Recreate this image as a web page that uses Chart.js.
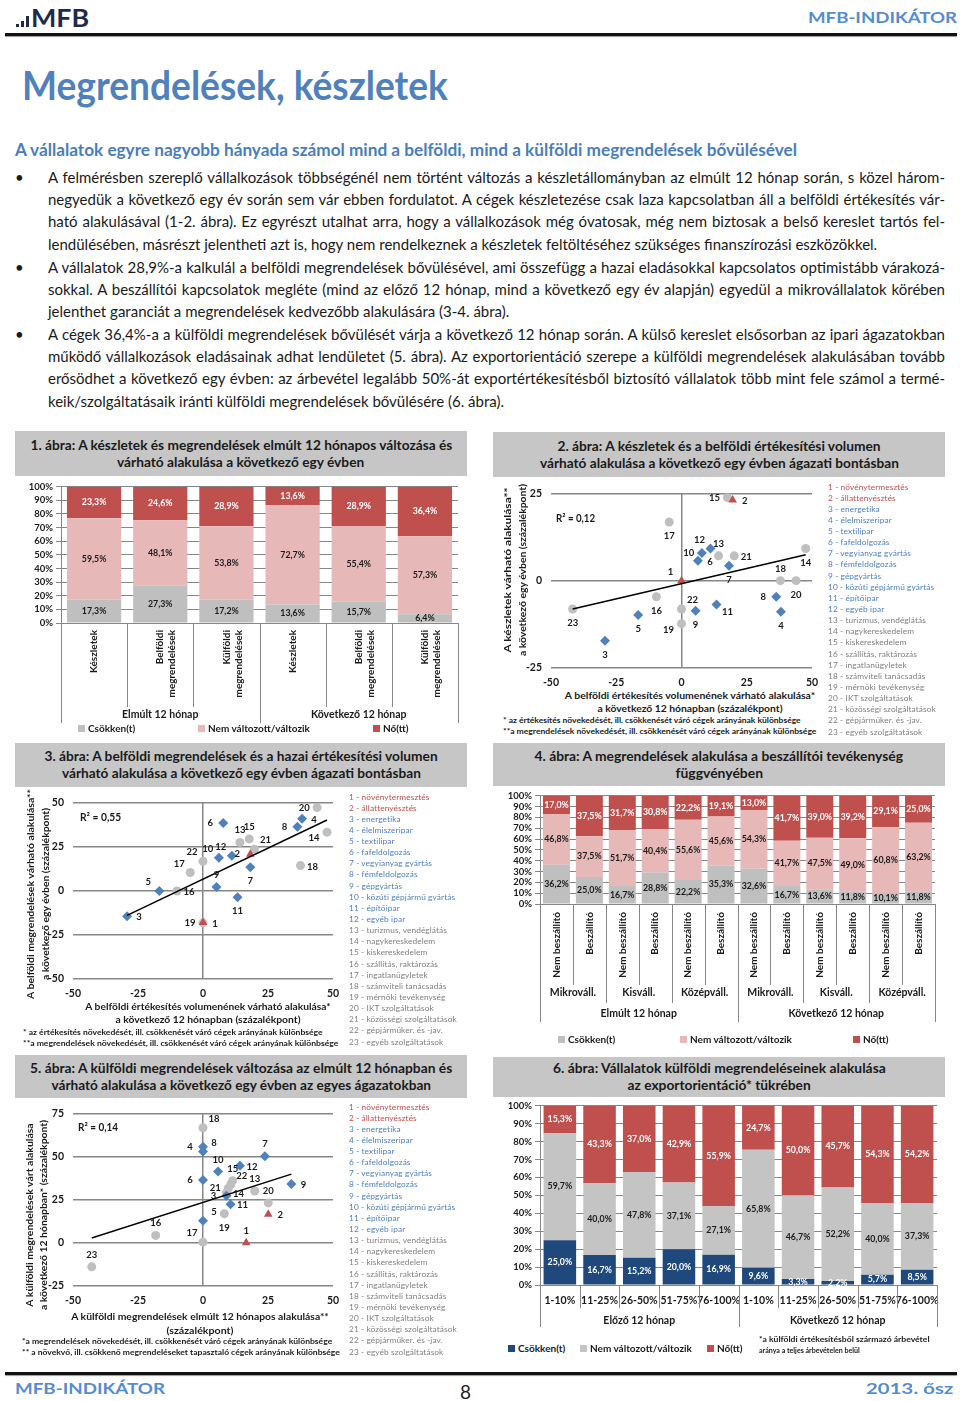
<!DOCTYPE html>
<html lang="hu">
<head>
<meta charset="utf-8">
<title>Megrendelések, készletek</title>
<script src="https://cdn.jsdelivr.net/npm/chart.js"></script>
<style>
  html, body { margin: 0; background: #fff; }
  #page { position: relative; width: 960px; height: 1401px; overflow: hidden; font-family: Lato, "Open Sans", sans-serif; color: #1a1a1a; }
  .t { position: absolute; white-space: nowrap; }
  .fit { display: inline-block; transform-origin: 0 50%; }
  .fitc { display: inline-block; transform-origin: 50% 50%; }
  .rule { position: absolute; left: 5px; width: 952px; height: 3px; background: #111; box-shadow: 0 1px 1px #999; }
  .ln { position: absolute; left: 48px; height: 22px; line-height: 22px; font-size: 15px; white-space: nowrap; }
  .ln span { display: inline-block; transform-origin: 0 50%; }
  .bul { position: absolute; left: 15px; font-size: 15px; line-height: 22px; height: 22px; }
  .ttl { position: absolute; background: #c6c6c6; font-weight: bold; font-size: 12.5px; line-height: 17px; color: #1a1a1a;
         display: flex; flex-direction: column; align-items: center; justify-content: center; }
  .ttl div { white-space: nowrap; }
  canvas { position: absolute; }
  .lg { position: absolute; font-weight: bold; font-size: 10px; line-height: 12px; white-space: nowrap; }
  .lg i { display: inline-block; width: 7px; height: 7px; margin-right: 3px; }
  .sec { position: absolute; font-size: 8.3px; line-height: 11px; white-space: nowrap; letter-spacing: 0.1px; }
  .ax { position: absolute; font-weight: bold; font-size: 10px; line-height: 13px; white-space: nowrap; }
  .note { position: absolute; font-weight: bold; font-size: 7.5px; line-height: 11px; white-space: nowrap; }
</style>
</head>
<body>
<div id="page">
  <!-- header -->
  <div style="position:absolute;left:16px;top:24px;width:3px;height:3px;background:#1c2b4c"></div>
  <div style="position:absolute;left:21px;top:21px;width:3px;height:6px;background:#1c2b4c"></div>
  <div style="position:absolute;left:26px;top:16px;width:3px;height:11px;background:#1c2b4c"></div>
  <div class="t" style="left:31px;top:5px;line-height:26px;font-size:24px;font-weight:bold;color:#1c2b4c"><span class="fit" data-w="58">MFB</span></div>
  <div class="t" style="left:808px;top:7px;line-height:20px;font-size:16px;font-weight:bold;color:#548dd4"><span class="fit" data-w="149">MFB-INDIKÁTOR</span></div>
  <div class="rule" style="top:33px"></div>

  <div class="t" style="left:22px;top:62px;height:46px;line-height:46px;font-size:40px;font-weight:bold;color:#4f81bd"><span class="fit" data-w="426">Megrendelések, készletek</span></div>
  <div class="t" style="left:15px;top:139px;line-height:22px;font-size:16.5px;font-weight:bold;color:#4a7ebb"><span class="fit" data-w="782">A vállalatok egyre nagyobb hányada számol mind a belföldi, mind a külföldi megrendelések bővülésével</span></div>

  <!-- body text -->
  <div class="bul" style="top:166px">•</div>
  <div class="ln" style="top:166px"><span>A felmérésben szereplő vállalkozások többségénél nem történt változás a készletállományban az elmúlt 12 hónap során, s közel három-</span></div>
  <div class="ln" style="top:188px"><span>negyedük a következő egy év során sem vár ebben fordulatot. A cégek készletezése csak laza kapcsolatban áll a belföldi értékesítés vár-</span></div>
  <div class="ln" style="top:210px"><span>ható alakulásával (1-2. ábra). Ez egyrészt utalhat arra, hogy a vállalkozások még óvatosak, még nem biztosak a belső kereslet tartós fel-</span></div>
  <div class="ln last" style="top:233px"><span>lendülésében, másrészt jelentheti azt is, hogy nem rendelkeznek a készletek feltöltéséhez szükséges finanszírozási eszközökkel.</span></div>
  <div class="bul" style="top:256px">•</div>
  <div class="ln" style="top:256px"><span>A vállalatok 28,9%-a kalkulál a belföldi megrendelések bővülésével, ami összefügg a hazai eladásokkal kapcsolatos optimistább várakozá-</span></div>
  <div class="ln" style="top:278px"><span>sokkal. A beszállítói kapcsolatok megléte (mind az előző 12 hónap, mind a következő egy év alapján) egyedül a mikrovállalatok körében</span></div>
  <div class="ln last" style="top:300px"><span>jelenthet garanciát a megrendelések kedvezőbb alakulására (3-4. ábra).</span></div>
  <div class="bul" style="top:323px">•</div>
  <div class="ln" style="top:323px"><span>A cégek 36,4%-a a külföldi megrendelések bővülését várja a következő 12 hónap során. A külső kereslet elsősorban az ipari ágazatokban</span></div>
  <div class="ln" style="top:345px"><span>működő vállalkozások eladásainak adhat lendületet (5. ábra). Az exportorientáció szerepe a külföldi megrendelések alakulásában tovább</span></div>
  <div class="ln" style="top:367px"><span>erősödhet a következő egy évben: az árbevétel legalább 50%-át exportértékesítésből biztosító vállalatok több mint fele számol a termé-</span></div>
  <div class="ln last" style="top:390px"><span>keik/szolgáltatásaik iránti külföldi megrendelések bővülésére (6. ábra).</span></div>

  <!-- chart panels -->
  <div class="ttl" style="left:15px;top:431px;width:452px;height:45px">
    <div><span class="fitc" data-w="422">1. ábra: A készletek és megrendelések elmúlt 12 hónapos változása és</span></div>
    <div><span class="fitc" data-w="247">várható alakulása a következő egy évben</span></div>
  </div>
  <div class="ttl" style="left:493px;top:432px;width:452px;height:45px">
    <div><span class="fitc" data-w="323">2. ábra: A készletek és a belföldi értékesítési volumen</span></div>
    <div><span class="fitc" data-w="359">várható alakulása a következő egy évben ágazati bontásban</span></div>
  </div>
  <div class="ttl" style="left:15px;top:743px;width:452px;height:44px">
    <div><span class="fitc" data-w="393">3. ábra: A belföldi megrendelések és a hazai értékesítési volumen</span></div>
    <div><span class="fitc" data-w="359">várható alakulása a következő egy évben ágazati bontásban</span></div>
  </div>
  <div class="ttl" style="left:493px;top:743px;width:452px;height:43px">
    <div><span class="fitc" data-w="368">4. ábra: A megrendelések alakulása a beszállítói tevékenység</span></div>
    <div><span class="fitc" data-w="88">függvényében</span></div>
  </div>
  <div class="ttl" style="left:15px;top:1055px;width:452px;height:43px">
    <div><span class="fitc" data-w="422">5. ábra: A külföldi megrendelések változása az elmúlt 12 hónapban és</span></div>
    <div><span class="fitc" data-w="379">várható alakulása a következő egy évben az egyes ágazatokban</span></div>
  </div>
  <div class="ttl" style="left:493px;top:1057px;width:452px;height:40px">
    <div><span class="fitc" data-w="333">6. ábra: Vállalatok külföldi megrendeléseinek alakulása</span></div>
    <div><span class="fitc" data-w="183">az exportorientáció* tükrében</span></div>
  </div>

  <canvas id="c1" width="470" height="250" style="left:15px;top:478px"></canvas>
  <canvas id="c2" width="340" height="210" style="left:490px;top:478px"></canvas>
  <canvas id="c3" width="340" height="215" style="left:15px;top:787px"></canvas>
  <canvas id="c4" width="470" height="250" style="left:490px;top:787px"></canvas>
  <canvas id="c5" width="340" height="212" style="left:15px;top:1098px"></canvas>
  <canvas id="c6" width="470" height="240" style="left:490px;top:1097px"></canvas>

  <!-- 2. ábra texts -->
  <div class="ax" style="left:556px;top:512px;font-size:10.5px"><span class="fit" data-w="39">R² = 0,12</span></div>
  <div class="ax" style="left:507px;top:570px;transform:translate(-50%,-50%) rotate(-90deg)"><span class="fitc" data-w="165">A készletek várható alakulása**</span></div>
  <div class="ax" style="left:522px;top:570px;transform:translate(-50%,-50%) rotate(-90deg)"><span class="fitc" data-w="172">a következő egy évben (százalékpont)</span></div>
  <div class="ax" style="left:690px;top:695px;transform:translate(-50%,-50%)"><span class="fitc" data-w="250">A belföldi értékesítés volumenének várható alakulása*</span></div>
  <div class="ax" style="left:690px;top:708px;transform:translate(-50%,-50%)"><span class="fitc" data-w="185">a következő 12 hónapban (százalékpont)</span></div>
  <div class="note" style="left:503px;top:715px"><span class="fit" data-w="298">* az értékesítés növekedését, ill. csökkenését váró cégek arányának különbsége</span></div>
  <div class="note" style="left:503px;top:726px"><span class="fit" data-w="313">**a megrendelések növekedését, ill. csökkenését váró cégek arányának különbsége</span></div>

  <!-- 3. ábra texts -->
  <div class="ax" style="left:80px;top:811px;font-size:10.5px"><span class="fit" data-w="41">R² = 0,55</span></div>
  <div class="ax" style="left:30px;top:894px;transform:translate(-50%,-50%) rotate(-90deg)"><span class="fitc" data-w="210">A belföldi megrendelések várható alakulása**</span></div>
  <div class="ax" style="left:45px;top:894px;transform:translate(-50%,-50%) rotate(-90deg)"><span class="fitc" data-w="172">a következő egy évben (százalékpont)</span></div>
  <div class="ax" style="left:208px;top:1006px;transform:translate(-50%,-50%)"><span class="fitc" data-w="245">A belföldi értékesítés volumenének várható alakulása*</span></div>
  <div class="ax" style="left:208px;top:1019px;transform:translate(-50%,-50%)"><span class="fitc" data-w="185">a következő 12 hónapban (százalékpont)</span></div>
  <div class="note" style="left:23px;top:1027px"><span class="fit" data-w="300">* az értékesítés növekedését, ill. csökkenését váró cégek arányának különbsége</span></div>
  <div class="note" style="left:23px;top:1038px"><span class="fit" data-w="315">**a megrendelések növekedését, ill. csökkenését váró cégek arányának különbsége</span></div>

  <!-- 5. ábra texts -->
  <div class="ax" style="left:78px;top:1121px;font-size:10.5px"><span class="fit" data-w="40">R² = 0,14</span></div>
  <div class="ax" style="left:29px;top:1215px;transform:translate(-50%,-50%) rotate(-90deg)"><span class="fitc" data-w="183">A külföldi megrendelések várt alakulása</span></div>
  <div class="ax" style="left:43px;top:1215px;transform:translate(-50%,-50%) rotate(-90deg)"><span class="fitc" data-w="190">a következő 12 hónapban* (százalékpont)</span></div>
  <div class="ax" style="left:200px;top:1316px;transform:translate(-50%,-50%)"><span class="fitc" data-w="258">A külföldi megrendelések elmúlt 12 hónapos alakulása**</span></div>
  <div class="ax" style="left:200px;top:1330px;transform:translate(-50%,-50%)"><span class="fitc" data-w="67">(százalékpont)</span></div>
  <div class="note" style="left:22px;top:1336px"><span class="fit" data-w="310">*a megrendelések növekedését, ill. csökkenését váró cégek arányának különbsége</span></div>
  <div class="note" style="left:22px;top:1347px"><span class="fit" data-w="318">** a növekvő, ill. csökkenő megrendeléseket tapasztaló cégek arányának különbsége</span></div>

  <!-- 6. ábra note -->
  <div class="note" style="left:759px;top:1334px"><span class="fit" data-w="171">*a külföldi értékesítésből származó árbevétel</span></div>
  <div class="note" style="left:759px;top:1345px"><span class="fit" data-w="101">aránya a teljes árbevételen belül</span></div>

  <!-- footer -->
  <div class="rule" style="top:1372px"></div>
  <div class="t" style="left:15px;top:1378px;line-height:20px;font-size:16px;font-weight:bold;color:#548dd4"><span class="fit" data-w="150">MFB-INDIKÁTOR</span></div>
  <div class="t" style="left:460px;top:1380px;line-height:24px;font-size:19px;color:#222">8</div>
  <div class="t" style="left:866px;top:1378px;line-height:20px;font-size:16px;font-weight:bold;color:#548dd4"><span class="fit" data-w="87">2013. ősz</span></div>
</div>

<script>
// ---- data ----
const seriesNames1 = ['Csökken(t)', 'Nem változott/változik', 'Nő(tt)'];
const seriesNames = ['Csökken(t)', 'Nem változott/változik', 'Nő(tt)'];

// 1. ábra
const cats1 = ['Készletek', ['Belföldi', 'megrendelések'], ['Külföldi', 'megrendelések'],
               'Készletek', ['Belföldi', 'megrendelések'], ['Külföldi', 'megrendelések']];
const periods1 = ['Elmúlt 12 hónap', 'Következő 12 hónap'];
const decr1 = [17.3, 27.3, 17.2, 13.6, 15.7, 6.4];
const same1 = [59.5, 48.1, 53.8, 72.7, 55.4, 57.3];
const incr1 = [23.3, 24.6, 28.9, 13.6, 28.9, 36.4];

// 4. ábra
const cats4 = ['Nem beszállító', 'Beszállító', 'Nem beszállító', 'Beszállító', 'Nem beszállító', 'Beszállító',
               'Nem beszállító', 'Beszállító', 'Nem beszállító', 'Beszállító', 'Nem beszállító', 'Beszállító'];
const sizes4 = ['Mikrováll.', 'Kisváll.', 'Középváll.', 'Mikrováll.', 'Kisváll.', 'Középváll.'];
const periods4 = ['Elmúlt 12 hónap', 'Következő 12 hónap'];
const decr4 = [36.2, 25.0, 16.7, 28.8, 22.2, 35.3, 32.6, 16.7, 13.6, 11.8, 10.1, 11.8];
const same4 = [46.8, 37.5, 51.7, 40.4, 55.6, 45.6, 54.3, 41.7, 47.5, 49.0, 60.8, 63.2];
const incr4 = [17.0, 37.5, 31.7, 30.8, 22.2, 19.1, 13.0, 41.7, 39.0, 39.2, 29.1, 25.0];

// 6. ábra
const cats6 = ['1-10%', '11-25%', '26-50%', '51-75%', '76-100%', '1-10%', '11-25%', '26-50%', '51-75%', '76-100%'];
const periods6 = ['Előző 12 hónap', 'Következő 12 hónap'];
const decr6 = [25.0, 16.7, 15.2, 20.0, 16.9, 9.6, 3.3, 2.2, 5.7, 8.5];
const same6 = [59.7, 40.0, 47.8, 37.1, 27.1, 65.8, 46.7, 52.2, 40.0, 37.3];
const incr6 = [15.3, 43.3, 37.0, 42.9, 55.9, 24.7, 50.0, 45.7, 54.3, 54.2];

// ágazatok (2., 3., 5. ábra)
const sectors = ['növénytermesztés', 'állattenyésztés', 'energetika', 'élelmiszeripar', 'textilipar',
  'fafeldolgozás', 'vegyianyag gyártás', 'fémfeldolgozás', 'gépgyártás', 'közúti gépjármű gyártás',
  'építőipar', 'egyéb ipar', 'turizmus, vendéglátás', 'nagykereskedelem', 'kiskereskedelem',
  'szállítás, raktározás', 'ingatlanügyletek', 'számviteli tanácsadás', 'mérnöki tevékenység',
  'IKT szolgáltatások', 'közösségi szolgáltatások', 'gépjárműker. és -jav.', 'egyéb szolgáltatások'];

// 2. ábra: belföldi értékesítés (x) vs készletek (y)
const sales2 = [0, 19.6, -29.3, 38.1, -16.6, 6.3, 18.2, 36.3, 5.4, 7.8, 13.4, 11.1,
                14.2, 47.6, 17.6, -9.6, -4.7, 37.9, 0, 43.9, 20.2, 0, -41.7];
const stock2 = [0, 23.1, -17.2, -8.9, -9.8, 5.7, 4.3, -4.6, -8.6, 7.9, -6.8, 9.2,
                7.1, 9.2, 23.8, -4.6, 16.8, 0, -12.3, 0, 7.1, -8.1, -8.1];
const trend2 = [{ x: -41.7, y: -8.1 }, { x: 47.6, y: 7.4 }];

// 3. ábra: belföldi értékesítés (x) vs belföldi megrendelések (y)
const sales3 = [0, 18.2, -29.2, 38.1, -16.8, 7.8, 18.2, 36.3, 5.2, 6.1, 13.3, 11.1,
                14.2, 47.7, 17.8, -10.0, -4.9, 37.5, 0, 43.9, 19.8, 0, null];
const orders3 = [-18.0, 20.6, -14.5, 40.7, -0.2, 38.3, 13.3, 36.1, 2.0, 18.6, -3.7, 19.7,
                 27.3, 33.1, 29.3, -0.2, 10.3, 14.2, -18.2, 47.0, 23.4, 16.6, null];
const trend3 = [{ x: -29.2, y: -14.0 }, { x: 47.7, y: 40.0 }];

// 5. ábra: külföldi megrendelések elmúlt 12 hónap (x) vs várt (y)
const past5 = [16.6, 25.1, 9.0, 0, 0, 0, 23.8, 0, 34.0, 5.8, 10.6, 14.2,
               19.9, 9.0, 11.4, -18.2, 0, 0, 8.2, 25.1, 9.7, 10.7, -42.8];
const next5 = [0, 16.5, 27.2, 55.7, 12.8, 36.4, 50.1, 52.9, 34.1, 41.3, 22.3, 44.7,
               30.0, 29.1, 36.0, 4.3, 0.4, 66.6, 16.9, 23.1, 31.5, 33.8, -13.9];
const trend5 = [{ x: -42.8, y: 2.8 }, { x: 34.0, y: 39.8 }];

// label placement of the sector numbers
const side2 = ['tl', 'r', 'b', 'b', 'b', 'r', 'b', 'l', 'b', 'l', 'br', 'tl', 't', 'b', 'l', 'b', 'b', 't', 'bl', 'b', 'r', 'tr', 'b'];
const side3 = ['r', 'l', 'r', 'r', 'tl', 'l', 'b', 'l', 't', 'tl', 'b', 'tl', 't', 'bl', 't', 'r', 'tl', 'r', 'l', 'l', 'tr', 'tl', 'b'];
const side5 = ['t', 'r', 'l', 'l', 'tr', 'l', 't', 'tr', 'r', 't', 'r', 'r', 't', 'r', 't', 't', 'tl', 'tr', 'b', 't', 'l', 'tr', 't'];

// ---- styles ----
const RED = '#c0504d', PINK = '#e6b9b8', GREY = '#bfbfbf', NAVY = '#1f497d', BLUE = '#4f81bd', LINE = '#878787', INK = '#1a1a1a';
const SIDE = { t: [0, -12], b: [0, 14], l: [-13, 0], r: [12, 1], tl: [-11, -9], tr: [11, -9], bl: [-13, 6], br: [11, 8] };

Chart.defaults.font.family = 'Lato, "Open Sans", sans-serif';
Chart.defaults.color = INK;

const pct = v => v.toFixed(1).replace('.', ',') + '%';
const page = document.getElementById('page');

// fit headings to their measured width (layout width, not the rotated box), justify body lines
document.querySelectorAll('.fit, .fitc').forEach(el => {
  const w = +el.dataset.w;
  el.style.transform = 'scaleX(' + (w / el.offsetWidth).toFixed(4) + ')';
});
document.querySelectorAll('.ln').forEach(ln => {
  const sp = ln.firstElementChild;
  const w = sp.getBoundingClientRect().width;
  const full = 897;
  if (w > full) sp.style.transform = 'scaleX(' + (full / w).toFixed(4) + ')';
  else if (!ln.classList.contains('last')) sp.style.wordSpacing = ((full - w) / (sp.textContent.split(' ').length - 1)).toFixed(3) + 'px';
});

// value labels in the middle of each bar segment
const segLabels = {
  id: 'segLabels',
  afterDatasetsDraw(chart, args, o) {
    const ctx = chart.ctx;
    ctx.save();
    ctx.font = o.font;
    ctx.textAlign = 'center';
    ctx.textBaseline = 'middle';
    chart.data.datasets.forEach((ds, i) => {
      ctx.fillStyle = o.colors[i];
      chart.getDatasetMeta(i).data.forEach((bar, j) => {
        ctx.fillText(pct(ds.data[j]), bar.x, (bar.y + bar.base) / 2);
      });
    });
    ctx.restore();
  }
};

// Excel-like multi level category axis: separators + group captions
const groupAxis = {
  id: 'groupAxis',
  afterDraw(chart, args, o) {
    const { ctx, chartArea } = chart;
    const xs = chart.scales.x;
    const w = (xs.right - xs.left) / chart.data.labels.length;
    ctx.save();
    ctx.strokeStyle = LINE;
    ctx.lineWidth = 1;
    o.seps.forEach((end, i) => {
      const x = Math.round(xs.left + i * w) + 0.5;
      ctx.beginPath();
      ctx.moveTo(x, chartArea.bottom);
      ctx.lineTo(x, end);
      ctx.stroke();
    });
    ctx.fillStyle = INK;
    ctx.textAlign = 'center';
    ctx.textBaseline = 'middle';
    o.rows.forEach(r => {
      ctx.font = r.font;
      let k = 0;
      r.groups.forEach(g => {
        ctx.fillText(g.text, xs.left + (k + g.span / 2) * w, r.y);
        k += g.span;
      });
    });
    ctx.restore();
  }
};

// sector numbers next to the scatter points
const ptLabels = {
  id: 'ptLabels',
  afterDatasetsDraw(chart) {
    const ctx = chart.ctx;
    ctx.save();
    ctx.font = 'bold 9.5px Lato';
    ctx.fillStyle = INK;
    ctx.textAlign = 'center';
    ctx.textBaseline = 'middle';
    chart.data.datasets.forEach((ds, i) => {
      if (!ds.numbered) return;
      chart.getDatasetMeta(i).data.forEach((pt, j) => {
        const p = ds.data[j];
        const off = SIDE[p.side];
        ctx.fillText(p.n, pt.x + off[0], pt.y + off[1]);
      });
    });
    ctx.restore();
  }
};

function stacked(id, labels, series, names, colors, o) {
  return new Chart(document.getElementById(id), {
    type: 'bar',
    data: {
      labels,
      datasets: series.map((d, i) => ({
        label: names[i], data: d, backgroundColor: colors[i], borderWidth: 0,
        barPercentage: 0.82, categoryPercentage: 1
      }))
    },
    options: {
      responsive: false, animation: false, devicePixelRatio: 1,
      layout: { padding: { top: o.top, right: o.right, left: 0, bottom: 0 } },
      scales: {
        x: {
          stacked: true, grid: { display: false, drawTicks: false }, border: { color: LINE },
          ticks: { autoSkip: false, maxRotation: o.rot, minRotation: o.rot, padding: o.tickPad,
                   font: { weight: 'bold', size: o.catSize }, color: INK },
          afterFit: s => { s.height = o.xh; }
        },
        y: {
          stacked: true, min: 0, max: 100, border: { color: LINE },
          grid: { color: LINE, tickLength: 5 },
          ticks: { stepSize: 10, autoSkip: false, padding: 3, callback: v => v + '%',
                   font: { weight: 'bold', size: 9.5 }, color: INK },
          afterFit: s => { s.width = o.yw; }
        }
      },
      plugins: {
        legend: { display: false }, tooltip: { enabled: false },
        segLabels: { font: 'bold 8.8px Lato', colors: o.segColors },
        groupAxis: { seps: o.seps, rows: o.rows }
      }
    },
    plugins: [segLabels, groupAxis]
  });
}

function scatter(id, xs, ys, sides, trend, o) {
  const groups = [[0, 2, 'triangle', RED, 5], [2, 12, 'rectRot', BLUE, 5], [12, 23, 'circle', GREY, 4.5]];
  const sets = groups.map(([a, b, st, c, r]) => ({
    numbered: true, pointStyle: st, pointRadius: r, backgroundColor: c, borderWidth: 0,
    data: xs.map((x, i) => ({ x, y: ys[i], n: i + 1, side: sides[i] }))
            .filter((p, i) => i >= a && i < b && p.x !== null)
  }));
  sets.push({ data: trend, showLine: true, pointRadius: 0, borderColor: '#000', borderWidth: 1.5, order: -1 });
  return new Chart(document.getElementById(id), {
    type: 'scatter',
    data: { datasets: sets },
    options: {
      responsive: false, animation: false, devicePixelRatio: 1,
      layout: { padding: { top: o.top, right: o.right, left: 0, bottom: 0 } },
      scales: {
        x: {
          type: 'linear', min: -50, max: 50, border: { display: false },
          grid: { drawTicks: false, lineWidth: 1.5, color: c => (c.tick && c.tick.value === 0 ? LINE : 'rgba(0,0,0,0)') },
          ticks: { stepSize: 25, autoSkip: false, padding: 8, font: { weight: 'bold', size: 10.5 }, color: INK },
          afterFit: s => { s.height = o.xh; }
        },
        y: {
          min: o.min, max: o.max, border: { display: false },
          grid: { drawTicks: false, lineWidth: 1.5, color: LINE },
          ticks: { stepSize: 25, autoSkip: false, padding: 9, font: { weight: 'bold', size: 10.5 }, color: INK },
          afterFit: s => { s.width = o.yw; }
        }
      },
      plugins: { legend: { display: false }, tooltip: { enabled: false } }
    },
    plugins: [ptLabels]
  });
}

function sectorList(x, y0) {
  sectors.forEach((s, i) => {
    const d = document.createElement('div');
    d.className = 'sec';
    d.style.left = x + 'px';
    d.style.top = (y0 + i * 11.14 - 5.5) + 'px';
    d.style.color = i < 2 ? RED : i < 12 ? BLUE : '#808080';
    d.textContent = (i + 1) + ' - ' + s;
    page.appendChild(d);
  });
}

function barLegend(names, colors, xs, y) {
  names.forEach((n, i) => {
    const d = document.createElement('div');
    d.className = 'lg';
    d.style.left = xs[i] + 'px';
    d.style.top = (y - 6) + 'px';
    d.innerHTML = '<i style="background:' + colors[i] + '"></i>' + n;
    page.appendChild(d);
  });
}

const BOLD10 = 'bold 10.5px Lato';

// 1. ábra
stacked('c1', cats1, [decr1, same1, incr1], seriesNames1, [GREY, PINK, RED], {
  top: 6, right: 27, yw: 46, xh: 105, rot: 90, tickPad: 7, catSize: 10,
  segColors: [INK, INK, '#fff'],
  seps: [245, 229, 229, 245, 229, 229, 245],
  rows: [{ y: 237, font: BOLD10, groups: periods1.map(t => ({ text: t, span: 3 })) }]
});
barLegend(seriesNames1, [GREY, PINK, RED], [78, 198, 373], 728);

// 4. ábra
stacked('c4', cats4, [decr4, same4, incr4], seriesNames, [GREY, PINK, RED], {
  top: 6, right: 25, yw: 50, xh: 133, rot: 90, tickPad: 8, catSize: 10,
  segColors: [INK, INK, '#fff'],
  seps: [235, 198, 216, 198, 216, 198, 235, 198, 216, 198, 216, 198, 235],
  rows: [
    { y: 206, font: BOLD10, groups: sizes4.map(t => ({ text: t, span: 2 })) },
    { y: 227, font: BOLD10, groups: periods4.map(t => ({ text: t, span: 6 })) }
  ]
});
barLegend(seriesNames, [GREY, PINK, RED], [558, 680, 853], 1039);

// 6. ábra
stacked('c6', cats6, [decr6, same6, incr6], seriesNames, [NAVY, '#c4c4c4', RED], {
  top: 7, right: 23, yw: 50, xh: 52, rot: 0, tickPad: 9, catSize: 10.5,
  segColors: ['#fff', INK, '#fff'],
  seps: [230, 211, 211, 211, 211, 230, 211, 211, 211, 211, 230],
  rows: [{ y: 224, font: BOLD10, groups: periods6.map(t => ({ text: t, span: 5 })) }]
});
barLegend(seriesNames, [NAVY, '#c4c4c4', RED], [508, 580, 707], 1348);

// 2., 3., 5. ábra
scatter('c2', sales2, stock2, side2, trend2, { top: 10, right: 18, yw: 61, xh: 20, min: -25, max: 25 });
scatter('c3', sales3, orders3, side3, trend3, { top: 11, right: 22, yw: 58, xh: 23, min: -50, max: 50 });
scatter('c5', past5, next5, side5, trend5, { top: 10, right: 22, yw: 58, xh: 24, min: -25, max: 75 });
sectorList(828, 487);
sectorList(349, 797);
sectorList(349, 1107);
</script>
</body>
</html>
